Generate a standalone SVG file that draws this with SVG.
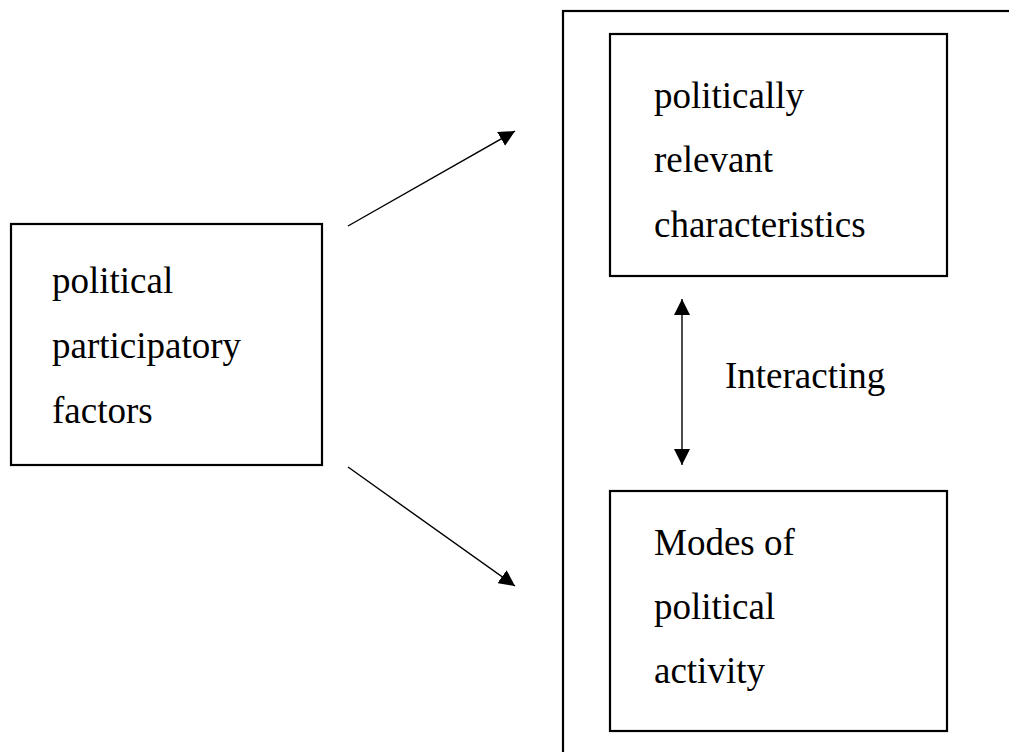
<svg xmlns="http://www.w3.org/2000/svg" width="1009" height="752" viewBox="0 0 1009 752">
<style>
.box{fill:none;stroke:#000;stroke-width:2.2}
.t{font-family:"Liberation Serif","Times New Roman",serif;font-size:37px;fill:#000}
.c{fill:none;stroke:#000;stroke-width:1.4}
</style>
<defs>
<marker id="ah" markerUnits="userSpaceOnUse" markerWidth="18" markerHeight="16" refX="16" refY="8" orient="auto-start-reverse">
<path d="M0,0 L16,8 L0,16 Z" fill="#000"/>
</marker>
</defs>
<rect width="1009" height="752" fill="#fff"/>
<g id="outer">
<rect class="box" x="563" y="11" width="500" height="800"/>
</g>
<g id="factors">
<rect class="box" x="11" y="224" width="311" height="241"/>
<text class="t" x="52" y="293">political</text>
<text class="t" x="52" y="358">participatory</text>
<text class="t" x="52" y="423">factors</text>
</g>
<g id="characteristics">
<rect class="box" x="610" y="34" width="337" height="242"/>
<text class="t" x="654" y="108">politically</text>
<text class="t" x="654" y="172">relevant</text>
<text class="t" x="654" y="237">characteristics</text>
</g>
<g id="modes">
<rect class="box" x="610" y="491" width="337" height="240"/>
<text class="t" x="654" y="555">Modes of</text>
<text class="t" x="654" y="619">political</text>
<text class="t" x="654" y="683">activity</text>
</g>
<g id="connectors">
<line class="c" x1="348" y1="226" x2="515" y2="131" marker-end="url(#ah)"/>
<line class="c" x1="348" y1="467" x2="515" y2="586" marker-end="url(#ah)"/>
<line class="c" x1="682" y1="299" x2="682" y2="465" marker-start="url(#ah)" marker-end="url(#ah)"/>
<text class="t" x="725" y="388">Interacting</text>
</g>
</svg>
